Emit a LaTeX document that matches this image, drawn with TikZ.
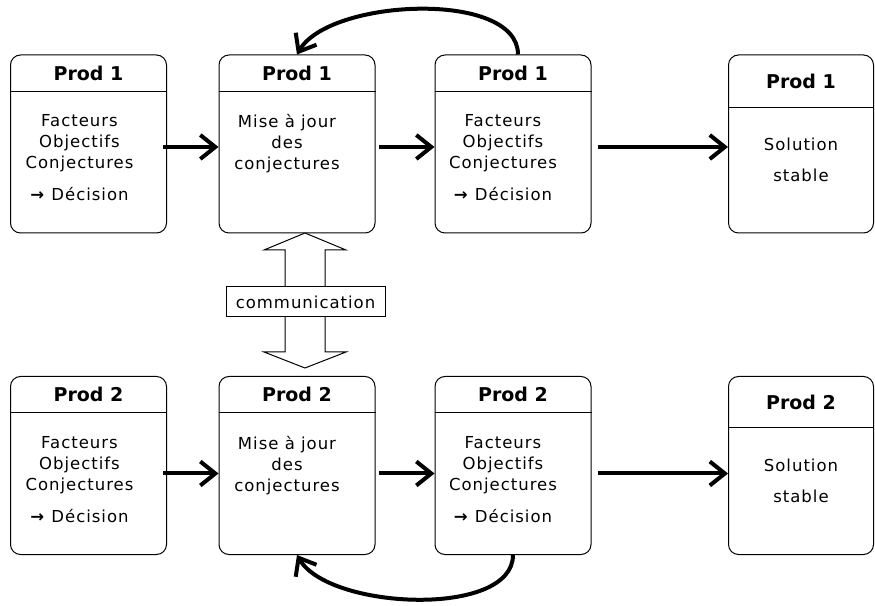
\documentclass[tikz,border=0pt]{standalone}
\usepackage{fontspec}
\setmainfont{DejaVu Sans}
\newfontfamily\corps[LetterSpace=6]{DejaVu Sans}
\usetikzlibrary{arrows.meta,positioning,calc}

\begin{document}
\begin{tikzpicture}[x=1pt,y=1pt,
  boite/.style={draw,rounded corners=10pt,line width=1pt,minimum width=156pt,minimum height=178pt,inner sep=0pt},
  titre/.style={font=\fontsize{19}{22}\selectfont\bfseries,inner sep=0pt},
  texte/.style={font=\corps\fontsize{16.5}{21}\selectfont,align=center,anchor=north,inner sep=0pt},
  fleche/.style={line width=4pt,-{Straight Barb[length=15pt,width=24pt]}},
  bloc/.style={draw,line width=1pt,fill=white}]
\useasboundingbox (0,0) rectangle (875,605);

\node[boite] (p1a) at (88.5,461) {};
\node[boite] (p1b) at (297,461) {};
\node[boite] (p1c) at (513,461) {};
\node[boite,minimum width=145pt] (p1d) at (801,461) {};
\node[boite] (p2a) at (88.5,139.5) {};
\node[boite] (p2b) at (297,139.5) {};
\node[boite] (p2c) at (513,139.5) {};
\node[boite,minimum width=145pt] (p2d) at (801,139.5) {};

\foreach \b/\n/\h in {p1a/1/37,p1b/1/37,p1c/1/37,p1d/1/53,p2a/2/37,p2b/2/37,p2c/2/37,p2d/2/52}{
  \node[titre] (t\b) at ($(\b.north)+(0,-\h/2)$) {Prod \n};
  \draw[line width=1pt] ($(\b.north west)+(0,-\h)$) -- ($(\b.north east)+(0,-\h)$);
}

\node[texte] (c1a) at ([xshift=-9pt,yshift=-60pt]p1a.north) {Facteurs\\Objectifs\\Conjectures\\[11pt]\textbf{→} Décision};
\node[texte] (c1b) at ([xshift=-10pt,yshift=-60pt]p1b.north) {Mise à jour\\des\\conjectures};
\node[texte] (c1c) at ([xshift=-10pt,yshift=-60pt]p1c.north) {Facteurs\\Objectifs\\Conjectures\\[11pt]\textbf{→} Décision};
\node[texte,font=\corps\fontsize{16.5}{31}\selectfont] (c1d) at ([yshift=-83pt]p1d.north) {Solution\\stable};
\node[texte] (c2a) at ([xshift=-9pt,yshift=-60pt]p2a.north) {Facteurs\\Objectifs\\Conjectures\\[11pt]\textbf{→} Décision};
\node[texte] (c2b) at ([xshift=-10pt,yshift=-60pt]p2b.north) {Mise à jour\\des\\conjectures};
\node[texte] (c2c) at ([xshift=-10pt,yshift=-60pt]p2c.north) {Facteurs\\Objectifs\\Conjectures\\[11pt]\textbf{→} Décision};
\node[texte,font=\corps\fontsize{16.5}{31}\selectfont] (c2d) at ([yshift=-83pt]p2d.north) {Solution\\stable};

\draw[fleche] ([xshift=-4pt,yshift=-3pt]p1a.east) -- ([yshift=-3pt]p1b.west);
\draw[fleche] ([xshift=3pt,yshift=-3pt]p1b.east) -- ([yshift=-3pt]p1c.west);
\draw[fleche] ([xshift=6pt,yshift=-3pt]p1c.east) -- ([yshift=-3pt]p1d.west);
\draw[fleche] ([xshift=-4pt,yshift=-8pt]p2a.east) -- ([yshift=-8pt]p2b.west);
\draw[fleche] ([xshift=3pt,yshift=-8pt]p2b.east) -- ([yshift=-8pt]p2c.west);
\draw[fleche] ([xshift=6pt,yshift=-8pt]p2c.east) -- ([yshift=-8pt]p2d.west);

\draw[fleche] ([xshift=5pt]p1c.north) to[out=90,in=60,looseness=0.75] (p1b.north);
\draw[fleche] (p2c.south) to[out=-90,in=-60,looseness=0.75] (p2b.south);

\draw[bloc] (305,372) -- (346,355) -- (325,355) -- (325,253) -- (346,253) -- (305,237)
  -- (264,253) -- (285,253) -- (285,355) -- (264,355) -- cycle;
\node[bloc,minimum width=159pt,minimum height=30pt,inner sep=0pt,font=\corps\fontsize{16.5}{20}\selectfont] (comm) at (305.5,303) {communication};
\end{tikzpicture}
\end{document}
